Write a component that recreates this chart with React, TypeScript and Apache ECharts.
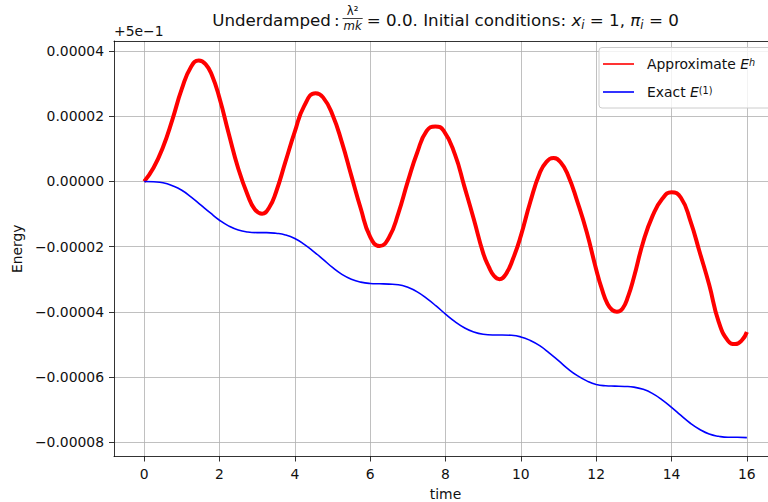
import { useEffect, useRef } from "react";
import * as echarts from "echarts";

// Approximate energy E^h: time samples and (Energy - 0.5) in units of 1e-5
const APPROX_T = [0, 0.25, 0.5, 0.75, 1.0, 1.25, 1.45, 1.63, 1.8, 2.0, 2.25, 2.5, 2.75, 2.94, 3.13, 3.32, 3.5, 3.75, 4.0, 4.25, 4.55, 4.75, 5.0, 5.25, 5.5, 5.75, 6.0, 6.25, 6.5, 6.75, 7.0, 7.25, 7.5, 7.73, 7.95, 8.25, 8.5, 8.75, 9.0, 9.15, 9.29, 9.43, 9.6, 9.8, 10.0, 10.25, 10.5, 10.68, 10.87, 11.06, 11.25, 11.5, 11.75, 12.0, 12.15, 12.3, 12.42, 12.55, 12.7, 12.85, 13.0, 13.25, 13.5, 13.75, 14.0, 14.25, 14.5, 14.75, 15.0, 15.25, 15.5, 15.69, 15.87, 16.0];
const APPROX_E = [0, 0.42, 1.05, 1.9, 2.84, 3.53, 3.71, 3.6, 3.26, 2.56, 1.45, 0.39, -0.42, -0.86, -0.99, -0.8, -0.33, 0.6, 1.53, 2.32, 2.71, 2.58, 2.05, 1.2, 0.18, -0.83, -1.7, -1.98, -1.72, -0.97, 0.0, 0.89, 1.55, 1.69, 1.56, 0.83, -0.15, -1.15, -2.2, -2.62, -2.9, -3.0, -2.85, -2.35, -1.67, -0.63, 0.25, 0.6, 0.72, 0.58, 0.2, -0.62, -1.56, -2.7, -3.3, -3.76, -3.94, -4.0, -3.9, -3.52, -2.95, -1.85, -1.05, -0.54, -0.33, -0.5, -1.21, -2.18, -3.17, -4.3, -4.89, -4.99, -4.87, -4.62];

// Exact energy E^(1)
const EXACT_T = [0, 0.25, 0.5, 0.75, 1, 1.25, 1.5, 1.75, 2, 2.25, 2.5, 2.75, 3, 3.25, 3.5, 3.75, 4, 4.25, 4.5, 4.75, 5, 5.25, 5.5, 5.75, 6, 6.25, 6.5, 6.75, 7, 7.25, 7.5, 7.75, 8, 8.25, 8.5, 8.75, 9, 9.25, 9.5, 9.75, 10, 10.25, 10.5, 10.75, 11, 11.25, 11.5, 11.75, 12, 12.25, 12.5, 12.75, 13, 13.25, 13.5, 13.75, 14, 14.25, 14.5, 14.75, 15, 15.25, 15.5, 15.75, 16];
const EXACT_E = [0, -0.01, -0.04, -0.13, -0.27, -0.48, -0.72, -0.96, -1.19, -1.37, -1.49, -1.55, -1.57, -1.57, -1.59, -1.64, -1.75, -1.93, -2.15, -2.39, -2.64, -2.85, -3.0, -3.09, -3.13, -3.14, -3.15, -3.17, -3.25, -3.39, -3.59, -3.82, -4.07, -4.3, -4.49, -4.62, -4.69, -4.71, -4.71, -4.72, -4.77, -4.88, -5.04, -5.26, -5.5, -5.75, -5.96, -6.12, -6.23, -6.27, -6.28, -6.29, -6.31, -6.38, -6.51, -6.7, -6.93, -7.18, -7.42, -7.61, -7.75, -7.82, -7.85, -7.85, -7.86];

const X_TICKS = [0, 2, 4, 6, 8, 10, 12, 14, 16];
const Y_TICKS = [-8, -6, -4, -2, 0, 2, 4];

const FONT = '"DejaVu Sans"';
const TXT = "#111";

function measure(text: string, size: number, italic = false) {
  const c = document.createElement("canvas").getContext("2d");
  if (!c) return text.length * size * 0.6;
  c.font = `${italic ? "italic " : ""}${size}px ${FONT}`;
  return c.measureText(text).width;
}

function buildTitle() {
  const big = 16.7;
  const small = 11.7;
  const els: any[] = [];
  let x = 0;
  const add = (text: string, size: number, italic: boolean, y: number) => {
    els.push({
      type: "text",
      x,
      y,
      style: {
        text,
        fontSize: size,
        fontFamily: "DejaVu Sans",
        fontStyle: italic ? "italic" : "normal",
        fill: TXT,
        textAlign: "left",
        textVerticalAlign: "middle",
        align: "left",
        verticalAlign: "middle",
      },
    });
    x += measure(text, size, italic);
  };
  add("Underdamped", big, false, 20);
  x += 3;
  add(":", big, false, 20);
  x += 3;
  const numW = measure("λ²", small, false);
  const denW = measure("mk", small, true);
  const fw = Math.max(numW, denW) + 2;
  const fx = x;
  els.push({
    type: "text",
    x: fx + fw / 2,
    y: 11,
    style: { text: "λ²", fontSize: small, fontFamily: "DejaVu Sans", fill: TXT, textAlign: "center", textVerticalAlign: "middle", align: "center", verticalAlign: "middle" },
  });
  els.push({
    type: "line",
    shape: { x1: fx, y1: 18.5, x2: fx + fw, y2: 18.5 },
    style: { stroke: TXT, lineWidth: 0.8 },
  });
  els.push({
    type: "text",
    x: fx + fw / 2,
    y: 26,
    style: { text: "mk", fontSize: small, fontFamily: "DejaVu Sans", fontStyle: "italic", fill: TXT, textAlign: "center", textVerticalAlign: "middle", align: "center", verticalAlign: "middle" },
  });
  x += fw + 4;
  add("= 0.0. Initial conditions: ", big, false, 20);
  add("x", big, true, 20);
  add("i", small, true, 25);
  add(" = 1, ", big, false, 20);
  add("π", big, true, 20);
  add("i", small, true, 25);
  add(" = 0", big, false, 20);
  const total = x;
  return { type: "group", x: 445.5 - total / 2, y: 0, children: els };
}

export default function App() {
  const ref = useRef<HTMLDivElement>(null);

  useEffect(() => {
    if (!ref.current) return;
    const chart = echarts.init(ref.current, undefined, { renderer: "svg" });

    const approxData = APPROX_T.map((t, i) => [t, APPROX_E[i]]);
    const exactData = EXACT_T.map((t, i) => [t, EXACT_E[i]]);

    const axisLineStyle = { color: "#000", width: 0.8 };
    const gridLine = { show: true, lineStyle: { color: "#b0b0b0", width: 0.8 } };

    const legendText = (y: number, rich: string) => ({
      type: "text",
      x: 647,
      y,
      style: {
        text: rich,
        rich: {
          n: { fontSize: 13.9, fontFamily: "DejaVu Sans", fill: TXT, color: TXT },
          it: { fontSize: 13.9, fontFamily: "DejaVu Sans", fontStyle: "italic", fill: TXT, color: TXT },
          supi: { fontSize: 9.7, fontFamily: "DejaVu Sans", fontStyle: "italic", fill: TXT, color: TXT, verticalAlign: "top", lineHeight: 14 },
          sup: { fontSize: 9.7, fontFamily: "DejaVu Sans", fill: TXT, color: TXT, verticalAlign: "top", lineHeight: 14 },
        },
        textVerticalAlign: "middle",
        verticalAlign: "middle",
      },
    });

    const option: any = {
      animation: false,
      backgroundColor: "#fff",
      textStyle: { fontFamily: FONT },
      grid: { left: 114, top: 41, width: 663, height: 415.5, containLabel: false, outerBoundsMode: "none" },
      xAxis: [
        {
          type: "value",
          min: -0.8,
          max: 16.8,
          minInterval: 2,
          maxInterval: 2,
          name: "time",
          nameLocation: "middle",
          nameGap: 30,
          nameTextStyle: { fontSize: 13.9, color: TXT, fontFamily: "DejaVu Sans" },
          axisLine: { show: true, lineStyle: axisLineStyle, onZero: false },
          axisTick: { show: true, length: 5, lineStyle: axisLineStyle, customValues: X_TICKS },
          axisLabel: {
            show: true,
            margin: 10,
            fontSize: 13.9,
            color: TXT,
            fontFamily: "DejaVu Sans",
            customValues: X_TICKS,
            formatter: (v: number) => String(Math.round(v)),
          },
          splitLine: gridLine,
        },
        {
          type: "value",
          position: "top",
          min: -0.8,
          max: 16.8,
          axisLine: { show: true, lineStyle: axisLineStyle, onZero: false },
          axisTick: { show: false },
          axisLabel: { show: false },
          splitLine: { show: false },
        },
      ],
      yAxis: {
        type: "value",
        min: -8.44,
        max: 4.31,
        minInterval: 2,
        maxInterval: 2,
        name: "Energy",
        nameLocation: "middle",
        nameRotate: 90,
        nameGap: 88,
        nameTextStyle: { fontSize: 13.9, color: TXT, fontFamily: "DejaVu Sans" },
        axisLine: { show: true, lineStyle: axisLineStyle, onZero: false },
        axisTick: { show: true, length: 5, lineStyle: axisLineStyle, customValues: Y_TICKS },
        axisLabel: {
          show: true,
          margin: 10,
          fontSize: 13.9,
          color: TXT,
          fontFamily: "DejaVu Sans",
          customValues: Y_TICKS,
          formatter: (v: number) => {
            const r = Math.round(v);
            const s = (Math.abs(r) * 1e-5).toFixed(5);
            return r < 0 ? "\u2212" + s : s;
          },
        },
        splitLine: gridLine,
      },
      series: [
        {
          name: "Approximate E^h",
          type: "line",
          data: approxData,
          showSymbol: false,
          smooth: 0.5,
          lineStyle: { color: "#ff0000", width: 4 },
          itemStyle: { color: "#ff0000" },
          z: 2,
        },
        {
          name: "Exact E^(1)",
          type: "line",
          data: exactData,
          showSymbol: false,
          smooth: 0.5,
          lineStyle: { color: "#0000ff", width: 1.6 },
          itemStyle: { color: "#0000ff" },
          z: 3,
        },
      ],
      graphic: [
        buildTitle(),
        {
          type: "text",
          x: 114,
          y: 31,
          style: {
            text: "+5e\u22121",
            fontSize: 13.9,
            fontFamily: "DejaVu Sans",
            fill: TXT,
            textVerticalAlign: "middle",
            verticalAlign: "middle",
          },
        },
        {
          type: "group",
          z: 100,
          children: [
            {
              type: "rect",
              shape: { x: 599, y: 47.5, width: 180, height: 60.5, r: 3 },
              style: { fill: "rgba(255,255,255,0.8)", stroke: "#cccccc", lineWidth: 1 },
              z: 100,
            },
            {
              type: "line",
              shape: { x1: 603, y1: 64, x2: 634, y2: 64 },
              style: { stroke: "#ff0000", lineWidth: 1.6 },
              z: 101,
            },
            {
              type: "line",
              shape: { x1: 603, y1: 92, x2: 634, y2: 92 },
              style: { stroke: "#0000ff", lineWidth: 1.6 },
              z: 101,
            },
            { ...legendText(64, "{n|Approximate }{it|E}{supi|h}"), z: 101 },
            { ...legendText(92, "{n|Exact }{it|E}{sup|(1)}"), z: 101 },
          ],
        },
      ],
    };

    chart.setOption(option);
    return () => chart.dispose();
  }, []);

  return (
    <div
      ref={ref}
      style={{ position: "fixed", left: 0, top: 0, width: 768, height: 502, background: "#fff" }}
    />
  );
}
